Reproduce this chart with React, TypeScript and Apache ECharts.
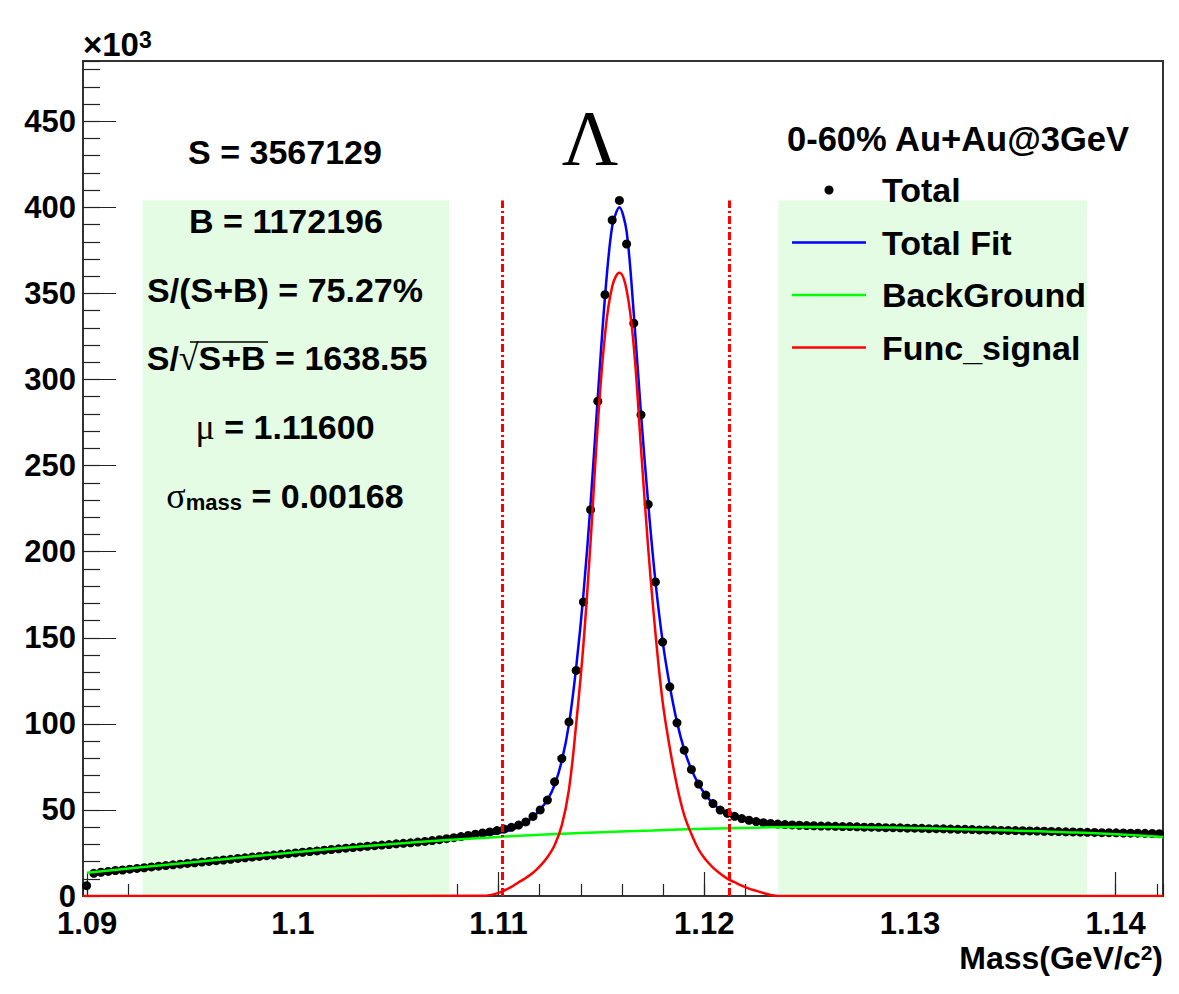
import React, { useEffect, useRef } from 'react';
import * as echarts from 'echarts';

// ---------------- data (values in units of 10^3 counts) ----------------
const binLow = 1.0898;
const binWidth = 0.00035;

const totalCounts = [
  6.0, 13.2, 13.8, 14.3, 14.8, 15.1, 15.6, 16.0, 16.4, 16.9,
  17.3, 17.7, 18.1, 18.5, 18.9, 19.3, 19.7, 20.1, 20.5, 20.9,
  21.3, 21.8, 22.2, 22.6, 23.0, 23.4, 23.8, 24.2, 24.6, 25.0,
  25.4, 25.8, 26.2, 26.6, 27.0, 27.4, 27.8, 28.1, 28.5, 28.9,
  29.2, 29.6, 29.9, 30.3, 30.6, 30.9, 31.3, 31.7, 32.2, 32.7,
  33.3, 33.9, 34.5, 35.2, 35.9, 36.6, 37.2, 38.0, 38.9, 39.9,
  41.2, 43.0, 46.2, 50.0, 55.7, 66.3, 79.8, 101.1, 131.0, 170.8,
  224.4, 287.4, 349.3, 392.6, 404.0, 378.7, 332.7, 279.5, 227.5, 182.4,
  147.5, 121.5, 100.6, 84.7, 73.5, 65.0, 58.6, 53.7, 49.9, 48.0,
  46.3, 45.0, 44.0, 43.2, 42.6, 42.1, 41.8, 41.5, 41.3, 41.1,
  40.9, 40.8, 40.6, 40.6, 40.5, 40.3, 40.3, 40.2, 40.0, 40.0,
  39.9, 39.7, 39.7, 39.6, 39.4, 39.4, 39.3, 39.1, 39.1, 39.0,
  38.9, 38.7, 38.7, 38.6, 38.4, 38.4, 38.3, 38.1, 38.1, 38.0,
  37.9, 37.8, 37.7, 37.6, 37.5, 37.4, 37.3, 37.2, 37.1, 37.0,
  36.9, 36.8, 36.8, 36.7, 36.6, 36.5, 36.5, 36.4, 36.3, 36.2,
];

const fitStartBin = 55;
const fitValues = [
  35.2, 35.8, 36.4, 37.3, 38.5, 40.2, 42.6, 45.8, 50.2, 55.8,
  64.5, 78.5, 100.0, 133.0, 175.0, 228.0, 290.0, 348.0, 389.0, 400.0,
  386.0, 338.0, 280.0, 228.0, 183.0, 148.0, 122.0, 101.0, 85.0, 73.5,
  65.0, 58.5, 53.8, 50.2, 47.8, 46.0, 44.7, 43.7, 43.0, 42.4,
  42.0, 41.6, 41.3,
];

const signalStartBin = 55;
const signalValues = [
  0.1, 0.5, 1.5, 3.2, 5.3, 8.0, 10.5, 13.5, 17.5, 22.5,
  29.5, 41.0, 62.0, 100.0, 146.0, 206.0, 274.0, 326.0, 354.0, 362.0,
  352.0, 319.0, 260.0, 202.0, 153.0, 113.0, 86.0, 64.0, 47.0, 36.0,
  27.0, 21.0, 16.5, 13.0, 10.0, 8.0, 6.0, 4.3, 3.0, 1.7,
  0.6, 0.0,
];
const signalEdgeValue = 0;

const bgMass = [
  1.0900, 1.0925, 1.0950, 1.0975, 1.1000, 1.1025, 1.1050, 1.1075, 1.1100, 1.1125, 1.1150,
  1.1175, 1.1200, 1.1225, 1.1250, 1.1275, 1.1300, 1.1325, 1.1350, 1.1375, 1.1400, 1.1423,
];
const bgValues = [
  13.5, 16.6, 19.5, 22.4, 25.3, 28.0, 30.4, 32.5, 34.3, 35.9, 37.1,
  38.1, 39.0, 39.7, 40.1, 40.0, 39.5, 38.8, 38.0, 37.1, 35.9, 34.3,
];

const xRange = [1.0898, 1.1423];
const yRange = [0, 485];
const sideBands = [
  [1.0927, 1.1076],
  [1.1236, 1.1386],
];
const bandTop = 404;
const windowCuts = [1.1102, 1.1212];

const statS = 'S = 3567129';
const statB = 'B = 1172196';
const statPurity = 'S/(S+B) = 75.27%';
const statSignificance = '1638.55';
const statMu = '1.11600';
const statSigma = '0.00168';
const headerText = '0-60% Au+Au@3GeV';
const legendNames = ['Total', 'Total Fit', 'BackGround', 'Func_signal'];

// ---------------- helpers ----------------
const binCenter = (i: number) => binLow + binWidth * (i + 0.5);
const SANS = "'Liberation Sans', Arial, Helvetica, sans-serif";
const SERIF = "'Liberation Serif', 'Times New Roman', serif";
const TOP_Z = 100;

export default function App() {
  const ref = useRef<HTMLDivElement>(null);

  useEffect(() => {
    if (!ref.current) return;
    const chart = echarts.init(ref.current, null, { renderer: 'svg' });

    const totalData = totalCounts.map((v, i) => [binCenter(i), v]);
    const fitData = fitValues.map((v, k) => [binCenter(fitStartBin + k), v]);
    const sigData = [
      [xRange[0], signalEdgeValue],
      ...signalValues.map((v, k) => [binCenter(signalStartBin + k), v]),
      [xRange[1], signalEdgeValue],
    ];
    const bgData = bgMass.map((m, k) => [m, bgValues[k]]);

    const tickLabel = {
      fontSize: 31,
      fontWeight: 'bold',
      fontFamily: SANS,
      color: '#000',
    };

    const bold = (size: number) => ({ fontSize: size, fontWeight: 'bold', fontFamily: SANS, lineHeight: size });
    const greek = (size: number) => ({ fontSize: size, fontWeight: 'normal', fontFamily: SERIF, lineHeight: size });

    const legendColors = ['#000000', '#0000ff', '#00ff00', '#ff0000'];
    const legendY = [190, 242.5, 295, 347.5];
    const statY = [152, 221, 289.5, 358, 427, 495.5];

    const textEl = (x: number, y: number, style: any) => ({
      type: 'text', x, y, z: TOP_Z, silent: true,
      style: { textVerticalAlign: 'middle', fill: '#000', ...style },
    });

    const graphic: any[] = [
      textEl(83, 44.5, {
        text: '{a|×10}{b|3}', textAlign: 'left',
        rich: { a: bold(33), b: { ...bold(23), lineHeight: 10, verticalAlign: 'top' } },
      }),
      textEl(285, statY[0], { text: statS, font: `bold 34px ${SANS}`, textAlign: 'center' }),
      textEl(286, statY[1], { text: statB, font: `bold 34px ${SANS}`, textAlign: 'center' }),
      textEl(285, statY[2], { text: statPurity, font: `bold 34px ${SANS}`, textAlign: 'center' }),
      textEl(287, statY[3], {
        text: `{t|S/}{r|√}{t|S+B = ${statSignificance}}`, textAlign: 'center',
        rich: { t: bold(34), r: greek(36) },
      }),
      {
        type: 'line', silent: true, z: TOP_Z,
        shape: { x1: 190, y1: statY[3] - 16, x2: 268, y2: statY[3] - 16 },
        style: { stroke: '#000', lineWidth: 1.5 },
      },
      textEl(285, statY[4], {
        text: `{g|μ}{t| = ${statMu}}`, textAlign: 'center',
        rich: { g: greek(36), t: bold(34) },
      }),
      textEl(285, statY[5], {
        text: `{g|σ}{s|mass}{t| = ${statSigma}}`, textAlign: 'center',
        rich: { g: greek(36), s: { ...bold(22), lineHeight: 12, verticalAlign: 'bottom' }, t: bold(34) },
      }),
      textEl(590, 137, { text: 'Λ', font: `normal 78px ${SERIF}`, textAlign: 'center' }),
      textEl(787, 139, { text: headerText, font: `bold 34.5px ${SANS}`, textAlign: 'left' }),
      textEl(1163, 958, {
        text: '{n|Mass(GeV/c}{s|2}{n|)}', textAlign: 'right',
        rich: { n: bold(32), s: { ...bold(21), lineHeight: 12, verticalAlign: 'top' } },
      }),
      {
        type: 'circle', silent: true, z: TOP_Z,
        shape: { cx: 829, cy: legendY[0], r: 4.5 },
        style: { fill: legendColors[0] },
      },
    ];
    legendNames.forEach((name, k) => {
      graphic.push(textEl(882, legendY[k], { text: name, font: `bold 34px ${SANS}`, textAlign: 'left' }));
      if (k > 0) {
        graphic.push({
          type: 'line', silent: true, z: TOP_Z,
          shape: { x1: 792, y1: legendY[k], x2: 866, y2: legendY[k] },
          style: { stroke: legendColors[k], lineWidth: 2.5 },
        });
      }
    });

    const option: any = {
      animation: false,
      backgroundColor: '#ffffff',
      grid: {
        left: 83, right: 16, top: 61, bottom: 98,
        show: true, borderColor: '#333', borderWidth: 2, backgroundColor: 'transparent',
      },
      xAxis: [
        {
          type: 'value', min: xRange[0], max: xRange[1], position: 'bottom',
          minInterval: 0.01, maxInterval: 0.01, splitNumber: 5,
          axisLine: { show: false },
          axisTick: { show: true, inside: true, length: 24, lineStyle: { color: '#222', width: 1.2 } },
          axisLabel: {
            ...tickLabel, margin: 12, showMinLabel: false, showMaxLabel: false,
            formatter: (v: number) => String(parseFloat(v.toFixed(4))),
          },
          splitLine: { show: false },
        },
        {
          type: 'value', min: xRange[0], max: xRange[1], position: 'bottom',
          minInterval: 0.002, maxInterval: 0.002, splitNumber: 5,
          axisLine: { show: false },
          axisTick: { show: true, inside: true, length: 12, lineStyle: { color: '#222', width: 1.2 } },
          axisLabel: { show: false },
          splitLine: { show: false },
        },
      ],
      yAxis: [
        {
          type: 'value', min: yRange[0], max: yRange[1], interval: 50, position: 'left',
          axisLine: { show: false },
          axisTick: { show: true, inside: true, length: 33, lineStyle: { color: '#222', width: 1.2 } },
          axisLabel: { ...tickLabel, margin: 7, showMaxLabel: false },
          splitLine: { show: false },
        },
        {
          type: 'value', min: yRange[0], max: yRange[1], interval: 10, position: 'left',
          axisLine: { show: false },
          axisTick: { show: true, inside: true, length: 17, lineStyle: { color: '#222', width: 1.2 } },
          axisLabel: { show: false },
          splitLine: { show: false },
        },
      ],
      series: [
        {
          name: 'Total Fit', type: 'line', data: fitData, xAxisIndex: 0, yAxisIndex: 0,
          symbol: 'none', smooth: 0.3, lineStyle: { color: '#0000ff', width: 2.5 }, z: 1, silent: true,
          markArea: {
            silent: true,
            itemStyle: { color: '#e3fce3', opacity: 1 },
            data: sideBands.map(([a, b]) => [{ coord: [a, 0] }, { coord: [b, bandTop] }]),
          },
        },
        {
          name: 'Total', type: 'scatter', data: totalData, xAxisIndex: 0, yAxisIndex: 0,
          symbol: 'circle', symbolSize: 9, itemStyle: { color: '#000', opacity: 1 }, z: 2, silent: true,
        },
        {
          name: 'BackGround', type: 'line', data: bgData, xAxisIndex: 0, yAxisIndex: 0,
          symbol: 'none', smooth: true, lineStyle: { color: '#00ff00', width: 2.5 }, z: 3, silent: true,
        },
        {
          name: 'Func_signal', type: 'line', data: sigData, xAxisIndex: 0, yAxisIndex: 0,
          symbol: 'none', smooth: 0.4,
          lineStyle: { color: '#ff0000', width: 2.5 }, z: 3, silent: true,
          markLine: {
            silent: true, symbol: 'none', label: { show: false },
            lineStyle: { color: '#ff0000', width: 3, type: [8, 3, 2, 3], opacity: 1 },
            emphasis: { disabled: true },
            data: windowCuts.map((x) => [{ coord: [x, 0] }, { coord: [x, bandTop] }]),
          },
        },
      ],
      graphic,
    };

    chart.setOption(option);
    return () => chart.dispose();
  }, []);

  return (
    <div
      ref={ref}
      style={{ position: 'fixed', left: 0, top: 0, width: 1179, height: 994, background: '#fff' }}
    />
  );
}
